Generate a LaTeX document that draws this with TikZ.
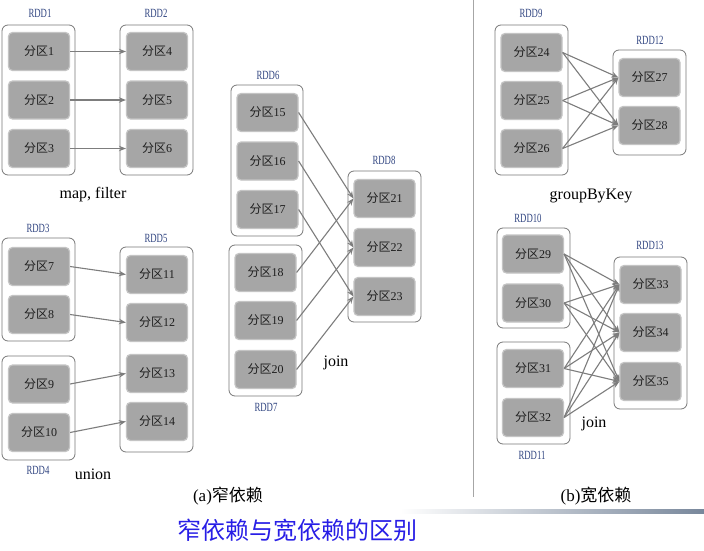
\documentclass[tikz,border=0pt]{standalone}
\usepackage{fontspec}
\usepackage{graphicx}
\setmainfont{Liberation Serif}
\newfontfamily\cjk{Noto Sans CJK SC}
\usetikzlibrary{arrows.meta}
\definecolor{pfill}{RGB}{166,166,166}
\definecolor{pborder}{RGB}{196,196,196}
\definecolor{ptext}{RGB}{30,30,30}
\definecolor{boxgray}{RGB}{120,120,120}
\definecolor{arrgray}{RGB}{125,125,125}
\definecolor{rddblue}{RGB}{50,70,130}
\definecolor{titleblue}{RGB}{40,30,230}
\definecolor{slate}{RGB}{120,135,155}
\newcommand\fq[1]{{\cjk 分区}#1}
\newcommand\rddlab[1]{\scalebox{0.7}[1]{#1}}
\begin{document}
\begin{tikzpicture}[x=1pt,y=-1pt,
  part/.style={rectangle, rounded corners=4pt, fill=pfill, draw=pborder, line width=1.2pt,
    minimum width=61pt, minimum height=38pt, inner sep=0pt, font=\fontsize{12}{12}\selectfont, text=ptext},
  rddbox/.style={rectangle, rounded corners=6pt, draw=boxgray, fill=white, line width=0.8pt, inner sep=0pt},
  rdd/.style={font=\fontsize{12.5}{12.5}\selectfont, text=rddblue, inner sep=0pt},
  oplab/.style={font=\fontsize{16}{16}\selectfont, text=black, inner sep=0pt},
  captext/.style={font=\fontsize{17}{17}\selectfont, text=black, inner sep=0pt},
  dep/.style={draw=arrgray, line width=1.1pt, -{Stealth[length=7pt,width=5.5pt]}}
]
\useasboundingbox (0,0) rectangle (704,551);
\fill[white] (0,0) rectangle (704,551);

% divider and decorative bar
\coordinate (divtop) at (473,0);
\coordinate (divbot) at (473,497);
\draw[draw=gray!70, line width=1pt] (divtop) -- (divbot);
\shade[left color=white, right color=slate] (400,509) rectangle (704,513);

% ---------- (a) narrow ----------
% map, filter
\node[rddbox, minimum width=73pt, minimum height=150pt] (R1) at (38.5,100) {};
\node[rddbox, minimum width=73pt, minimum height=150pt] (R2) at (156.5,100) {};
\node[rdd] (L1) at (40,13) {\rddlab{RDD1}};
\node[rdd] (L2) at (156,13) {\rddlab{RDD2}};
\node[part] (p1) at (39,51.5) {\fq{1}};
\node[part] (p2) at (39,100) {\fq{2}};
\node[part] (p3) at (39,148.5) {\fq{3}};
\node[part] (p4) at (157,51.5) {\fq{4}};
\node[part] (p5) at (157,100) {\fq{5}};
\node[part] (p6) at (157,148.5) {\fq{6}};
\draw[dep] (p1) -- (p4);
\draw[dep] (p2) -- (p5);
\draw[dep] (p3) -- (p6);
\node[oplab] (mf) at (93,195) {map, filter};

% union
\node[rddbox, minimum width=73pt, minimum height=103pt] (R3) at (38.5,289.5) {};
\node[rddbox, minimum width=73pt, minimum height=104pt] (R4) at (38.5,408) {};
\node[rddbox, minimum width=73pt, minimum height=205pt] (R5) at (156.5,349.5) {};
\node[rdd] (L3) at (38,228) {\rddlab{RDD3}};
\node[rdd] (L4) at (38,470) {\rddlab{RDD4}};
\node[rdd] (L5) at (156,238) {\rddlab{RDD5}};
\node[part] (p7) at (39,266.5) {\fq{7}};
\node[part] (p8) at (39,314.5) {\fq{8}};
\node[part] (p9) at (39,384) {\fq{9}};
\node[part] (p10) at (39,432.5) {\fq{10}};
\node[part] (p11) at (157,274.5) {\fq{11}};
\node[part] (p12) at (157,322.5) {\fq{12}};
\node[part] (p13) at (157,373.5) {\fq{13}};
\node[part] (p14) at (157,421.5) {\fq{14}};
\draw[dep] (p7.east) -- (p11.west);
\draw[dep] (p8.east) -- (p12.west);
\draw[dep] (p9.east) -- (p13.west);
\draw[dep] (p10.east) -- (p14.west);
\node[oplab] (un) at (93,474) {union};

% join (co-partitioned)
\node[rddbox, minimum width=72pt, minimum height=151pt] (R6) at (267,160.5) {};
\node[rddbox, minimum width=73pt, minimum height=151pt] (R7) at (265.5,320.5) {};
\node[rddbox, minimum width=73pt, minimum height=151pt] (R8) at (384.5,246.5) {};
\node[rdd] (L6) at (268,75) {\rddlab{RDD6}};
\node[rdd] (L7) at (266,407) {\rddlab{RDD7}};
\node[rdd] (L8) at (384,160) {\rddlab{RDD8}};
\node[part] (p15) at (267.5,112.5) {\fq{15}};
\node[part] (p16) at (267.5,161) {\fq{16}};
\node[part] (p17) at (267.5,209.5) {\fq{17}};
\node[part] (p18) at (265.5,272.5) {\fq{18}};
\node[part] (p19) at (265.5,320.5) {\fq{19}};
\node[part] (p20) at (265.5,369.5) {\fq{20}};
\node[part] (p21) at (384.5,198.5) {\fq{21}};
\node[part] (p22) at (384.5,247.5) {\fq{22}};
\node[part] (p23) at (384.5,296.5) {\fq{23}};
\draw[dep] (p15.east) -- (p21.west);
\draw[dep] (p16.east) -- (p22.west);
\draw[dep] (p17.east) -- (p23.west);
\draw[dep] (p18.east) -- (p21.west);
\draw[dep] (p19.east) -- (p22.west);
\draw[dep] (p20.east) -- (p23.west);
\node[oplab] (jn1) at (336,363) {join};

\node[captext] (capa) at (228,496) {(a){\cjk 窄依赖}};

% ---------- (b) wide ----------
% groupByKey
\node[rddbox, minimum width=73pt, minimum height=150pt] (R9) at (531.5,100) {};
\node[rddbox, minimum width=73pt, minimum height=105pt] (R12) at (649.5,102.5) {};
\node[rdd] (L9) at (531,13) {\rddlab{RDD9}};
\node[rdd] (L12) at (650,40) {\rddlab{RDD12}};
\node[part] (p24) at (531.5,52.5) {\fq{24}};
\node[part] (p25) at (531.5,100.5) {\fq{25}};
\node[part] (p26) at (531.5,148.5) {\fq{26}};
\node[part] (p27) at (649.5,77.5) {\fq{27}};
\node[part] (p28) at (649.5,125.5) {\fq{28}};
\foreach \s in {p24,p25,p26}{
  \foreach \t in {p27,p28}{
    \draw[dep] (\s.east) -- (\t.west);
  }
}
\node[oplab] (gbk) at (591,196) {groupByKey};

% join (not co-partitioned)
\node[rddbox, minimum width=73pt, minimum height=100pt] (R10) at (533.5,278) {};
\node[rddbox, minimum width=73pt, minimum height=102pt] (R11) at (533.5,393) {};
\node[rddbox, minimum width=73pt, minimum height=152pt] (R13) at (650.5,333) {};
\node[rdd] (L10) at (528,218) {\rddlab{RDD10}};
\node[rdd] (L11) at (532,455) {\rddlab{RDD11}};
\node[rdd] (L13) at (650,245) {\rddlab{RDD13}};
\node[part] (p29) at (533,254) {\fq{29}};
\node[part] (p30) at (533,303) {\fq{30}};
\node[part] (p31) at (533,368.5) {\fq{31}};
\node[part] (p32) at (533,417.5) {\fq{32}};
\node[part] (p33) at (650.5,284.5) {\fq{33}};
\node[part] (p34) at (650.5,332.5) {\fq{34}};
\node[part] (p35) at (650.5,381.5) {\fq{35}};
\foreach \s in {p29,p30,p31,p32}{
  \foreach \t in {p33,p34,p35}{
    \draw[dep] (\s.east) -- (\t.west);
  }
}
\node[oplab] (jn2) at (594,424) {join};

\node[captext] (capb) at (596,496) {(b){\cjk 宽依赖}};

% title
\node[font=\fontsize{24}{24}\selectfont, text=titleblue, inner sep=0pt] (title) at (297,530) {\cjk 窄依赖与宽依赖的区别};
\end{tikzpicture}
\end{document}
